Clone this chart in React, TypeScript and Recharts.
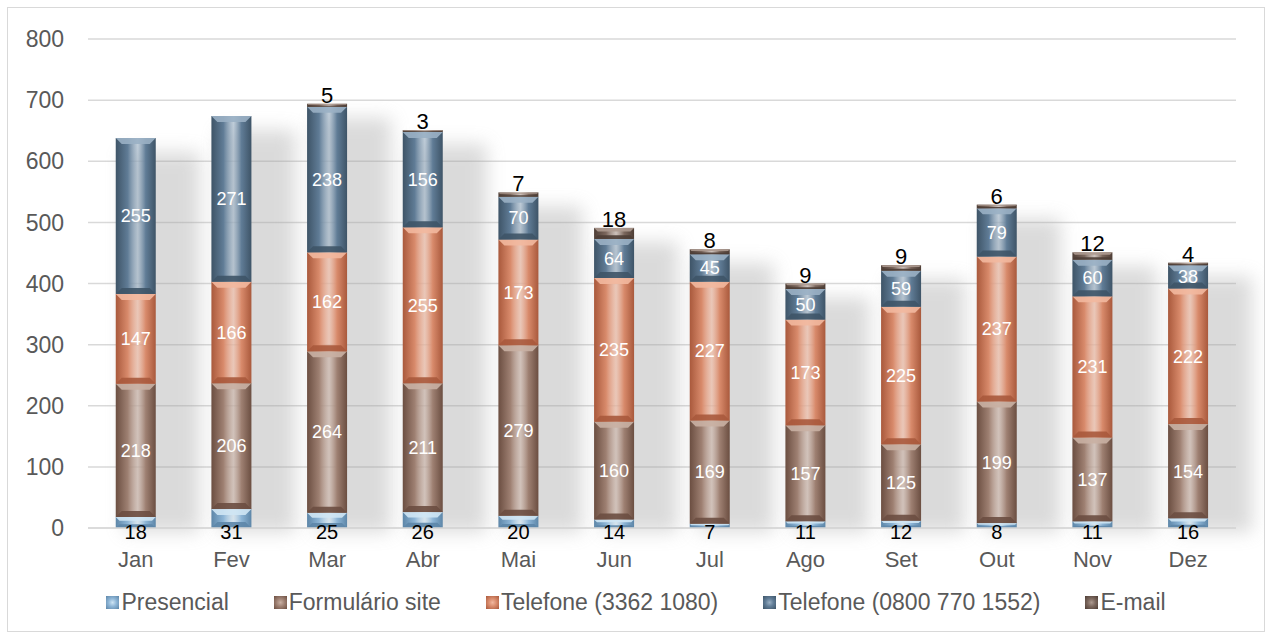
import React from 'react'
import { BarChart, Bar, XAxis, YAxis, CartesianGrid, LabelList } from 'recharts'

const months = ['Jan', 'Fev', 'Mar', 'Abr', 'Mai', 'Jun', 'Jul', 'Ago', 'Set', 'Out', 'Nov', 'Dez']
const presencial = [18, 31, 25, 26, 20, 14, 7, 11, 12, 8, 11, 16]
const formulario = [218, 206, 264, 211, 279, 160, 169, 157, 125, 199, 137, 154]
const tel3362 = [147, 166, 162, 255, 173, 235, 227, 173, 225, 237, 231, 222]
const tel0800 = [255, 271, 238, 156, 70, 64, 45, 50, 59, 79, 60, 38]
const email = [0, 0, 5, 3, 7, 18, 8, 9, 9, 6, 12, 4]
const yTicks = [0, 100, 200, 300, 400, 500, 600, 700, 800]

const data = months.map((m, i) => ({
  month: m,
  presencial: presencial[i],
  formulario: formulario[i],
  tel3362: tel3362[i],
  tel0800: tel0800[i],
  email: email[i],
}))

type Pal = { id: string; base: string; light: string; dark: string }

const series: { key: string; name: string; pal: Pal; labelColor: string; pos: any; size: number }[] = [
  { key: 'presencial', name: 'Presencial', pal: { id: 'p', base: '#8db5d6', light: '#cfe5f4', dark: '#5d86a8' }, labelColor: '#000', pos: 'bottom', size: 20 },
  { key: 'formulario', name: 'Formulário site', pal: { id: 'f', base: '#9e8072', light: '#c9b0a3', dark: '#6b4e41' }, labelColor: '#fff', pos: 'center', size: 18 },
  { key: 'tel3362', name: 'Telefone (3362 1080)', pal: { id: 't', base: '#d88a6b', light: '#f2b89f', dark: '#a9593c' }, labelColor: '#fff', pos: 'center', size: 18 },
  { key: 'tel0800', name: 'Telefone (0800 770 1552)', pal: { id: 'o', base: '#607c96', light: '#9ab0c4', dark: '#3e5467' }, labelColor: '#fff', pos: 'center', size: 18 },
  { key: 'email', name: 'E-mail', pal: { id: 'e', base: '#7b675d', light: '#ad9a90', dark: '#4d3d35' }, labelColor: '#000', pos: 'top', size: 22 },
]

const font = '"Liberation Sans", Arial, sans-serif'

function BevelBar(props: any) {
  const { x, y, width, height, pal, first, payload } = props
  if (!height || height <= 0) return null
  const b = Math.min(6, height / 3)
  let shadow = null
  if (first && payload) {
    const total = payload.presencial + payload.formulario + payload.tel3362 + payload.tel0800 + payload.email
    const scale = height / payload.presencial
    const th = total * scale
    shadow = (
      <rect
        x={x + width * 0.2}
        y={y + height - th + 14}
        width={width * 1.9}
        height={th - 10}
        fill="#a0a0a0"
        opacity={0.38}
        filter="url(#shadowBlur)"
      />
    )
  }
  return (
    <g>
      {shadow}
      <rect x={x} y={y} width={width} height={height} fill={`url(#g_${pal.id})`} />
      <polygon
        points={`${x},${y} ${x + width},${y} ${x + width - b},${y + b} ${x + b},${y + b}`}
        fill={pal.light}
        opacity={0.9}
      />
      <polygon
        points={`${x},${y + height} ${x + width},${y + height} ${x + width - b},${y + height - b} ${x + b},${y + height - b}`}
        fill={pal.dark}
        opacity={0.9}
      />
    </g>
  )
}

function LegendRow() {
  return (
    <div
      style={{
        position: 'absolute',
        top: 581,
        left: 0,
        width: '100%',
        display: 'flex',
        justifyContent: 'center',
        gap: 45,
        fontFamily: font,
        fontSize: 23,
        color: '#595959',
      }}
    >
      {series.map((s) => (
        <div key={s.key} style={{ display: 'flex', alignItems: 'center' }}>
          <span
            style={{
              width: 13,
              height: 13,
              marginRight: 2,
              background: `radial-gradient(circle, ${s.pal.light} 0%, ${s.pal.base} 45%, ${s.pal.dark} 100%)`,
              display: 'inline-block',
            }}
          />
          {s.name}
        </div>
      ))}
    </div>
  )
}

export default function App() {
  return (
    <div
      style={{
        position: 'absolute',
        left: 7,
        top: 7,
        width: 1258,
        height: 625,
        border: '1px solid #d9d9d9',
        boxSizing: 'border-box',
        background: '#fff',
      }}
    >
      <BarChart
        width={1256}
        height={580}
        data={data}
        margin={{ top: 31, right: 28, left: 0, bottom: 0 }}
        barCategoryGap="29%"
      >
        <defs>
          <filter id="shadowBlur" x="-50%" y="-20%" width="200%" height="140%">
            <feGaussianBlur stdDeviation="9" />
          </filter>
          {series.map((s) => (
            <linearGradient key={s.pal.id} id={`g_${s.pal.id}`} x1="0" y1="0" x2="1" y2="0">
              <stop offset="0%" stopColor={s.pal.dark} />
              <stop offset="30%" stopColor={s.pal.base} />
              <stop offset="55%" stopColor={s.pal.light} stopOpacity={0.6} />
              <stop offset="75%" stopColor={s.pal.base} />
              <stop offset="100%" stopColor={s.pal.dark} />
            </linearGradient>
          ))}
        </defs>
        <CartesianGrid vertical={false} stroke="#d9d9d9" strokeWidth={1.5} />
        <XAxis
          dataKey="month"
          tickLine={false}
          axisLine={{ stroke: '#d9d9d9', strokeWidth: 1.5 }}
          tick={{ fill: '#595959', fontSize: 22, fontFamily: font }}
          tickMargin={17}
          interval={0}
          height={60}
        />
        <YAxis
          domain={[0, 800]}
          ticks={yTicks}
          width={80}
          tickLine={false}
          axisLine={false}
          tick={{ fill: '#595959', fontSize: 23, fontFamily: font }}
          tickMargin={18}
        />
        {series.map((s, i) => (
          <Bar
            key={s.key}
            dataKey={s.key}
            name={s.name}
            stackId="a"
            fill={s.pal.base}
            isAnimationActive={false}
            shape={(p: any) => <BevelBar {...p} pal={s.pal} first={i === 0} />}
          >
            <LabelList
              dataKey={s.key}
              position={s.pos}
              offset={s.pos === 'bottom' ? -3 : 1}
              fill={s.labelColor}
              fontSize={s.size}
              fontFamily={font}
              formatter={(v: any) => (v ? v : '')}
            />
          </Bar>
        ))}
      </BarChart>
      <LegendRow />
    </div>
  )
}
